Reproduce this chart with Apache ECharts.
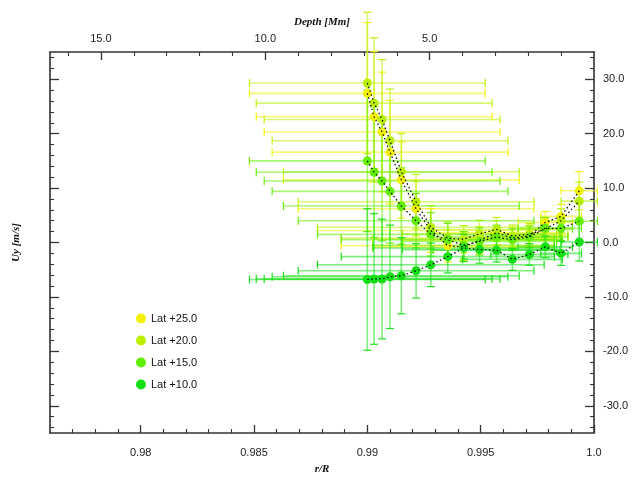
<!DOCTYPE html>
<html><head><meta charset="utf-8">
<script src="https://cdn.jsdelivr.net/npm/echarts@6/dist/echarts.min.js"></script>
<style>html,body{margin:0;padding:0;background:#fff}#c{width:635px;height:480px}</style>
</head><body><div id="c"></div>
<script>
// ---- data ----
const rValues = [0.9900, 0.9903, 0.99065, 0.9910, 0.9915, 0.99215, 0.9928, 0.99355, 0.99425, 0.99495, 0.9957, 0.9964, 0.99715, 0.99785, 0.99855, 0.99935];
const lat25 = [27.4, 23.1, 20.3, 16.6, 11.5, 6.2, 2.2, -0.6, -0.8, 0.4, 1.8, 0.8, 1.2, 3.7, 4.8, 9.5];
const lat20 = [29.3, 25.6, 22.6, 18.7, 13.0, 7.5, 2.8, 0.8, 0.6, 1.6, 2.4, 1.2, 1.5, 2.5, 4.0, 7.6];
const lat15 = [15.0, 12.9, 11.3, 9.4, 6.7, 4.0, 1.5, 0.5, -0.5, 0.2, 1.0, 0.5, 1.0, 2.6, 2.6, 3.9];
const lat10 = [-6.8, -6.7, -6.7, -6.3, -6.1, -5.2, -4.1, -2.6, -1.0, -1.3, -1.4, -3.1, -2.2, -0.8, -2.0, 0.1];
const xErr = [0.0052, 0.0052, 0.0052, 0.0052, 0.0052, 0.0052, 0.0050, 0.0047, 0.0040, 0.0034, 0.0028, 0.0022, 0.0017, 0.0012, 0.0009, 0.0008];
const yErr25 = [13, 12, 11, 9.5, 7, 5, 4, 3, 2.5, 2.5, 2.2, 2, 2, 2, 2.2, 3.5];
const yErr20 = [13, 12, 11, 9.5, 7, 5, 4, 3, 2.5, 2.5, 2.2, 2, 2, 2, 2.2, 3.5];
const yErr15 = [13, 12, 11, 9.5, 7, 5, 4, 3, 2.5, 2.5, 2.2, 2, 2, 2, 2.2, 3.5];
const yErr10 = [13, 12, 11, 9.5, 7, 5, 4, 3, 2.5, 2.5, 2.2, 2, 2, 2, 2.2, 3.5];
const seriesNames = ['Lat +25.0', 'Lat +20.0', 'Lat +15.0', 'Lat +10.0'];
const xMajor = [0.98, 0.985, 0.99, 0.995, 1.0];
const xMinor = [0.977,0.978,0.979,0.981,0.982,0.983,0.984,0.986,0.987,0.988,0.989,0.991,0.992,0.993,0.994,0.996,0.997,0.998,0.999];
const yMajor = [-30, -20, -10, 0, 10, 20, 30];
const yMinor = [-34,-32,-28,-26,-24,-22,-18,-16,-14,-12,-8,-6,-4,-2,2,4,6,8,12,14,16,18,22,24,26,28,32,34];
const depthMajor = [5, 10, 15];
const depthMinor = [1,2,3,4,6,7,8,9,11,12,13,14,16];

const colors = ['#f2f200', '#b8f000', '#62ee00', '#12e012'];
const values = [lat25, lat20, lat15, lat10];
const yErrs = [yErr25, yErr20, yErr15, yErr10];

const X0 = 0.976, X1 = 1.0, Y0 = -35, Y1 = 35, D1 = 16.55;
const lblFont = {fontFamily: 'Liberation Sans, Arial, sans-serif', fontSize: 11, color: '#222'};
const nameFont = {fontFamily: 'Liberation Serif, Times New Roman, serif', fontStyle: 'italic', fontWeight: 'bold', fontSize: 11, color: '#111'};
const lineSt = {lineStyle: {color: '#333', width: 1.6}};

function errBars(i) {
  const color = colors[i];
  const data = rValues.map((r, k) => [r, values[i][k], xErr[k], yErrs[i][k]]);
  return {
    type: 'custom', name: 'err' + i, xAxisIndex: 0, yAxisIndex: 0, clip: false, silent: true, z: 2,
    encode: {x: 0, y: 1},
    data,
    renderItem(params, api) {
      const r = api.value(0), v = api.value(1), xe = api.value(2), ye = api.value(3);
      const pL = api.coord([r - xe, v]), pR = api.coord([r + xe, v]);
      const pT = api.coord([r, v + ye]), pB = api.coord([r, v - ye]);
      const cap = 4;
      const bs = {stroke: color, lineWidth: 1.6, opacity: 0.55};
      const cs = {stroke: color, lineWidth: 1.2, opacity: 0.95};
      return {type: 'group', children: [
        {type: 'line', shape: {x1: pL[0], y1: pL[1], x2: pR[0], y2: pR[1]}, style: bs},
        {type: 'line', shape: {x1: pT[0], y1: pT[1], x2: pB[0], y2: pB[1]}, style: bs},
        {type: 'line', shape: {x1: pL[0], y1: pL[1] - cap, x2: pL[0], y2: pL[1] + cap}, style: cs},
        {type: 'line', shape: {x1: pR[0], y1: pR[1] - cap, x2: pR[0], y2: pR[1] + cap}, style: cs},
        {type: 'line', shape: {x1: pT[0] - cap, y1: pT[1], x2: pT[0] + cap, y2: pT[1]}, style: cs},
        {type: 'line', shape: {x1: pB[0] - cap, y1: pB[1], x2: pB[0] + cap, y2: pB[1]}, style: cs}
      ]};
    }
  };
}

const series = [];
for (let i = 0; i < 4; i++) series.push(errBars(i));
for (let i = 0; i < 4; i++) {
  series.push({
    type: 'scatter', name: seriesNames[i], xAxisIndex: 0, yAxisIndex: 0, z: 3,
    symbol: 'circle', symbolSize: 9, itemStyle: {color: colors[i], opacity: 1},
    data: rValues.map((r, k) => [r, values[i][k]])
  });
}
for (let i = 0; i < 4; i++) {
  series.push({
    type: 'line', name: 'line' + i, xAxisIndex: 0, yAxisIndex: 0, z: 4, silent: true,
    symbol: 'none', lineStyle: {color: '#000', width: 1.2, type: [1.5, 2.5]},
    data: rValues.map((r, k) => [r, values[i][k]])
  });
}

const noSplit = {show: false};
const option = {
  animation: false,
  backgroundColor: '#fff',
  grid: {left: 50, right: 41, top: 52, bottom: 33},
  legend: {
    data: seriesNames, orient: 'vertical', left: 131, top: 308,
    icon: 'circle', itemWidth: 10, itemHeight: 10, itemGap: 11,
    textStyle: {fontFamily: 'Liberation Sans, Arial, sans-serif', fontSize: 11, color: '#111'}
  },
  xAxis: [
    {type: 'value', position: 'bottom', min: X0, max: X1,
     axisLine: {show: false, onZero: false},
     axisTick: {show: true, inside: true, length: 8, customValues: xMajor, lineStyle: {color: '#333', width: 1.3}},
     axisLabel: {show: true, customValues: xMajor, margin: 14, ...lblFont,
       formatter: v => (Math.abs(v - 1) < 1e-9 ? '1.0' : String(+v.toFixed(3)))},
     splitLine: noSplit,
     name: 'r/R', nameLocation: 'middle', nameGap: 31, nameTextStyle: nameFont},
    {type: 'value', position: 'bottom', min: X0, max: X1,
     axisLine: {show: true, onZero: false, ...lineSt},
     axisTick: {show: true, inside: true, length: 4, customValues: xMinor, lineStyle: {color: '#333', width: 1.1}},
     axisLabel: {show: false}, splitLine: noSplit},
    {type: 'value', position: 'top', min: 0, max: D1, inverse: true,
     axisLine: {show: false, onZero: false},
     axisTick: {show: true, inside: true, length: 8, customValues: depthMajor, lineStyle: {color: '#333', width: 1.3}},
     axisLabel: {show: true, customValues: depthMajor, margin: 8, ...lblFont, formatter: v => v.toFixed(1)},
     splitLine: noSplit,
     name: 'Depth [Mm]', nameLocation: 'middle', nameGap: 17, nameTextStyle: nameFont},
    {type: 'value', position: 'top', min: 0, max: D1, inverse: true,
     axisLine: {show: true, onZero: false, ...lineSt},
     axisTick: {show: true, inside: true, length: 4, customValues: depthMinor, lineStyle: {color: '#333', width: 1.1}},
     axisLabel: {show: false}, splitLine: noSplit}
  ],
  yAxis: [
    {type: 'value', position: 'left', min: Y0, max: Y1,
     axisLine: {show: false, onZero: false},
     axisTick: {show: true, inside: true, length: 9, customValues: yMajor, lineStyle: {color: '#333', width: 1.3}},
     axisLabel: {show: false}, splitLine: noSplit,
     name: 'Uy [m/s]', nameLocation: 'middle', nameGap: 28, nameRotate: 90, nameTextStyle: nameFont},
    {type: 'value', position: 'left', min: Y0, max: Y1,
     axisLine: {show: true, onZero: false, ...lineSt},
     axisTick: {show: true, inside: true, length: 4, customValues: yMinor, lineStyle: {color: '#333', width: 1.1}},
     axisLabel: {show: false}, splitLine: noSplit},
    {type: 'value', position: 'right', min: Y0, max: Y1,
     axisLine: {show: false, onZero: false},
     axisTick: {show: true, inside: true, length: 9, customValues: yMajor, lineStyle: {color: '#333', width: 1.3}},
     axisLabel: {show: true, customValues: yMajor, margin: 9, ...lblFont, formatter: v => v.toFixed(1)},
     splitLine: noSplit},
    {type: 'value', position: 'right', min: Y0, max: Y1,
     axisLine: {show: true, onZero: false, ...lineSt},
     axisTick: {show: true, inside: true, length: 4, customValues: yMinor, lineStyle: {color: '#333', width: 1.1}},
     axisLabel: {show: false}, splitLine: noSplit}
  ],
  series
};
const chart = echarts.init(document.getElementById('c'), null, {renderer: 'canvas'});
chart.setOption(option);
</script>
</body></html>
